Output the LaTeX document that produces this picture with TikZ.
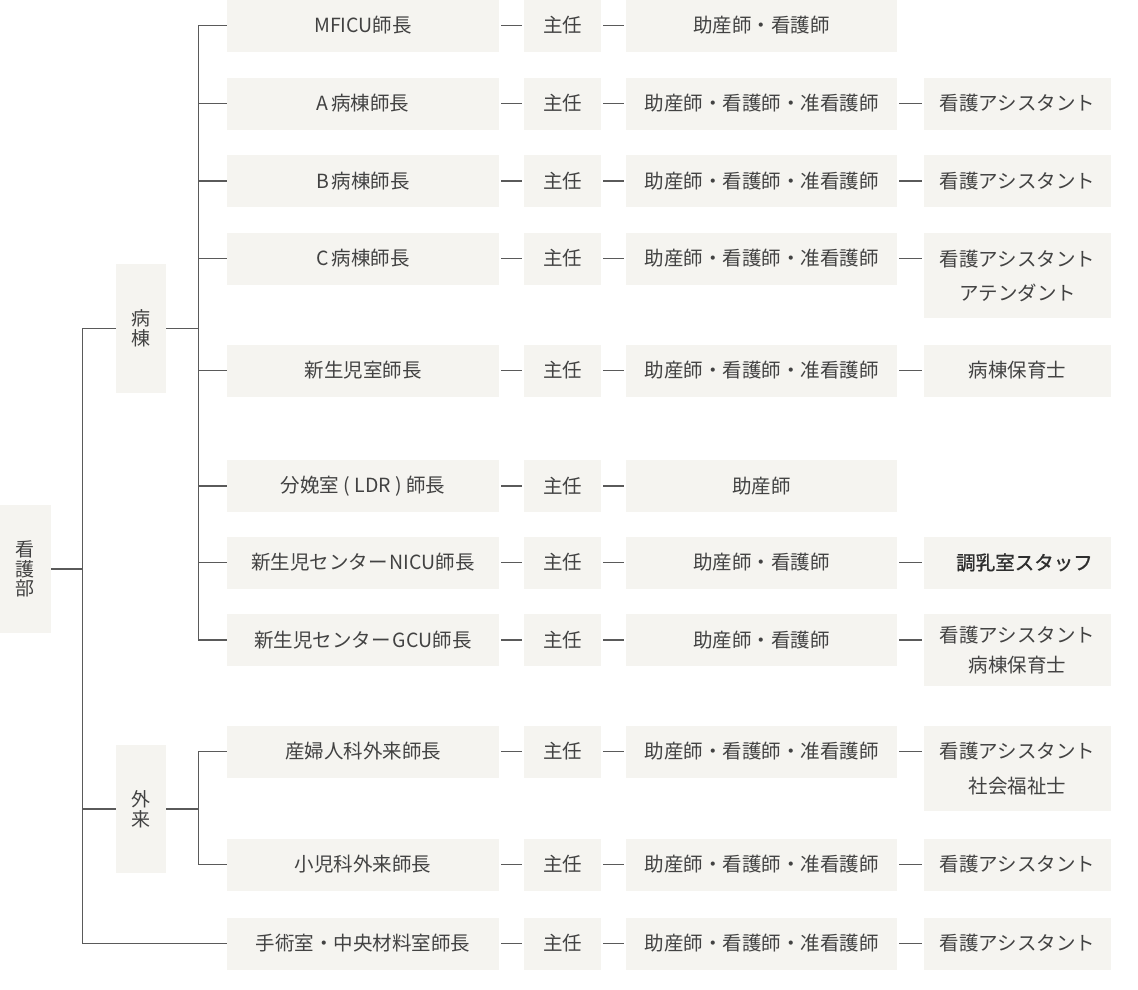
\documentclass[tikz,border=0pt]{standalone}
\usepackage{fontspec}
\setmainfont{Noto Sans CJK JP}
\newfontfamily\medfont{Noto Sans CJK JP}[FakeBold=1]
\definecolor{boxc}{HTML}{F5F4F0}
\definecolor{txt}{HTML}{424242}
\definecolor{lnc}{HTML}{5A5A5A}
\tikzset{
  box/.style={fill=boxc, text=txt, inner sep=0pt, minimum height=52pt, align=center,
    font=\fontsize{19.5}{22}\selectfont},
  headbox/.style={box, minimum width=272pt},
  chiefbox/.style={box, minimum width=77pt},
  staffbox/.style={box, minimum width=271pt},
  extrabox/.style={box, minimum width=187pt},
  vbox/.style={box, minimum width=51pt, minimum height=128pt, font=\fontsize{19}{19.5}\selectfont},
  conn/.style={draw=lnc, line width=1.3pt},
  dashc/.style={conn, shorten >=2pt, shorten <=2pt}
}
\begin{document}
\begin{tikzpicture}[x=1pt,y=-1pt]
\useasboundingbox (0,0) rectangle (1138,989);

% left column
\node[vbox] (kango) at (25.5,569) {看\\護\\部};
\node[vbox, minimum width=50pt, minimum height=129pt] (byoto) at (141,328.5) {病\\棟};
\node[vbox, minimum width=50pt] (gairai) at (141,809) {外\\来};

% heads
\node[headbox] (h1) at (363,25.5) {MFICU師長};
\node[headbox] (h2) at (363,103.5) {A\hspace{3pt}病棟師長};
\node[headbox] (h3) at (363,181) {B\hspace{3pt}病棟師長};
\node[headbox] (h4) at (363,258.5) {C\hspace{3pt}病棟師長};
\node[headbox] (h5) at (363,370.5) {新生児室師長};
\node[headbox] (h6) at (363,486) {分娩室 ( LDR ) 師長};
\node[headbox] (h7) at (363,562.5) {新生児センター\hspace{2pt}NICU師長};
\node[headbox] (h8) at (363,640) {新生児センター\hspace{2pt}GCU師長};
\node[headbox] (h9) at (363,751.5) {産婦人科外来師長};
\node[headbox] (h10) at (363,864.5) {小児科外来師長};
\node[headbox] (h11) at (363,943.5) {手術室・中央材料室師長};

% chiefs
\foreach \i/\y in {1/25.5,2/103.5,3/181,4/258.5,5/370.5,6/486,7/562.5,8/640,9/751.5,10/864.5,11/943.5}{
  \node[chiefbox] (c\i) at (562.5,\y) {主任};
}

% staff
\node[staffbox] (s1) at (761.5,25.5) {助産師・看護師};
\node[staffbox] (s2) at (761.5,103.5) {助産師・看護師・准看護師};
\node[staffbox] (s3) at (761.5,181) {助産師・看護師・准看護師};
\node[staffbox] (s4) at (761.5,258.5) {助産師・看護師・准看護師};
\node[staffbox] (s5) at (761.5,370.5) {助産師・看護師・准看護師};
\node[staffbox] (s6) at (761.5,486) {助産師};
\node[staffbox] (s7) at (761.5,562.5) {助産師・看護師};
\node[staffbox] (s8) at (761.5,640) {助産師・看護師};
\node[staffbox] (s9) at (761.5,751.5) {助産師・看護師・准看護師};
\node[staffbox] (s10) at (761.5,864.5) {助産師・看護師・准看護師};
\node[staffbox] (s11) at (761.5,943.5) {助産師・看護師・准看護師};

% extra
\node[extrabox] (e2) at (1017.5,103.5) {看護アシスタント};
\node[extrabox] (e3) at (1017.5,181) {看護アシスタント};
\node[extrabox, anchor=north, minimum height=85pt, font=\fontsize{19.5}{34}\selectfont] (e4) at (1017.5,233) {看護アシスタント\\アテンダント};
\node[extrabox] (e5) at (1017.5,370.5) {病棟保育士};
\node[extrabox, text=black!82] (e7) at (1017.5,562.5) {\hspace*{14pt}\medfont 調乳室スタッフ};
\node[extrabox, anchor=north, minimum height=72pt, font=\fontsize{19.5}{30}\selectfont] (e8) at (1017.5,614) {看護アシスタント\\病棟保育士};
\node[extrabox, anchor=north, minimum height=85pt, font=\fontsize{19.5}{35}\selectfont] (e9) at (1017.5,726) {看護アシスタント\\社会福祉士};
\node[extrabox] (e10) at (1017.5,864.5) {看護アシスタント};
\node[extrabox] (e11) at (1017.5,943.5) {看護アシスタント};

% tree connectors
\coordinate (mj) at ([xshift=31pt]kango.east);
\draw[conn] (kango.east) -- (mj);
\draw[conn] (mj) |- (byoto.west);
\draw[conn] (mj) |- (gairai.west);
\draw[conn] (mj) |- (h11.west);
\draw[conn] (byoto.east) -- ++(32,0) coordinate (bj);
\foreach \i in {1,...,8}{ \draw[conn] (bj) |- (h\i.west); }
\draw[conn] (gairai.east) -- ++(32,0) coordinate (gj);
\draw[conn] (gj) |- (h9.west);
\draw[conn] (gj) |- (h10.west);

% row dashes
\foreach \i in {1,...,11}{
  \draw[dashc] (h\i.east) -- (c\i.west);
  \draw[dashc] (c\i.east) -- (s\i.west);
}
\foreach \i in {2,3,4,5,7,8,9,10,11}{
  \draw[dashc] (s\i.east) -- (s\i.east -| e\i.west);
}
\end{tikzpicture}
\end{document}
